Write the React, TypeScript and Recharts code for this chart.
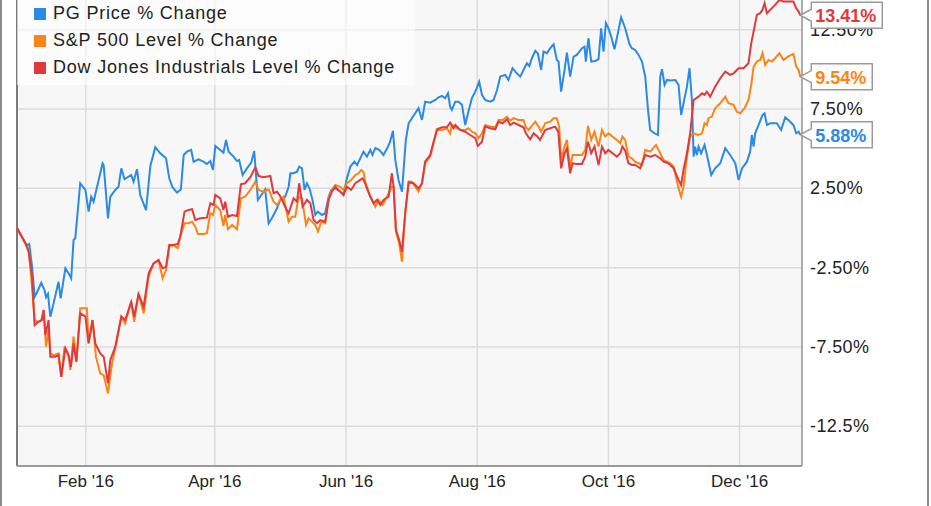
import { LineChart, Line, XAxis, YAxis, CartesianGrid, ReferenceLine } from "recharts";

// x = days since Dec 31 2015, y = % change
const pgDays = [0, 3.9, 5.1, 5.7, 7.0, 8.2, 9.8, 11.3, 12.8, 13.5, 14.4, 15.5, 17.0, 19.3, 20.3, 22.5, 24.0, 25.2, 26.3, 27.1, 29.4, 31.8, 33.3, 34.5, 35.6, 39.8, 40.3, 42.3, 43.4, 45.7, 47.2, 48.5, 50.0, 53.1, 54.2, 55.8, 57.3, 60.0, 62.0, 64.3, 66.6, 69.3, 70.8, 72.3, 74.4, 76.2, 77.5, 79.0, 81.0, 82.1, 84.4, 86.7, 88.3, 89.9, 91.1, 92.2, 94.5, 96.0, 97.2, 98.4, 100.7, 102.3, 103.3, 104.9, 106.9, 108.9, 110.3, 112.0, 113.1, 115.4, 117.0, 118.5, 120.9, 122.4, 124.7, 126.3, 127.1, 128.6, 130.2, 131.2, 132.5, 133.7, 134.8, 136.0, 137.4, 138.7, 139.9, 141.8, 143.3, 144.9, 146.1, 148.0, 150.3, 151.8, 153.4, 155.0, 156.9, 158.1, 159.6, 161.1, 162.7, 164.3, 165.3, 166.6, 168.4, 170.4, 172.5, 173.5, 174.8, 175.9, 177.4, 179.0, 180.8, 182.1, 183.6, 186.7, 188.3, 189.8, 192.1, 194.5, 196.0, 197.6, 199.1, 200.4, 201.4, 202.2, 203.8, 205.3, 206.9, 208.4, 209.7, 211.5, 213.1, 214.9, 216.2, 217.7, 220.0, 221.6, 223.2, 224.7, 227.0, 228.5, 230.4, 232.4, 234.0, 235.5, 237.1, 238.2, 239.4, 241.0, 242.2, 243.7, 244.8, 246.4, 247.9, 249.5, 251.0, 251.8, 253.0, 254.6, 255.7, 257.2, 258.8, 260.3, 262.7, 263.9, 264.5, 265.7, 267.0, 268.9, 270.4, 271.6, 272.7, 273.8, 275.0, 276.3, 277.8, 279.7, 280.9, 282.8, 284.8, 285.9, 287.4, 289.0, 290.6, 292.1, 293.4, 294.4, 296.4, 298.0, 299.1, 299.9, 301.1, 302.2, 303.7, 306.1, 307.6, 308.8, 309.9, 311.5, 312.7, 313.8, 314.6, 315.3, 316.1, 316.9, 318.1, 319.7, 320.8, 322.8, 324.6, 327.0, 329.3, 331.6, 334.0, 335.5, 337.1, 339.4, 340.9, 341.7, 342.5, 343.2, 344.8, 346.6, 347.6, 348.7, 350.2, 353.3, 355.3, 357.2, 359.5, 361.0, 362.3, 363.4, 364.2];
const pgPct = [0, -0.96, -1.07, -1.01, -2.44, -4.33, -3.91, -3.45, -3.91, -4.37, -4.16, -5.59, -4.75, -3.39, -4.43, -2.54, -2.86, -3.17, -0.76, -0.65, 2.82, 2.4, 1.03, 1.97, 1.66, 4.08, 3.97, 0.61, 1.97, 2.4, 2.6, 3.76, 3.07, 3.34, 2.92, 3.7, 2.08, 1.13, 3.91, 5.09, 4.71, 4.39, 3.13, 2.57, 2.23, 2.44, 4.6, 4.81, 4.92, 4.18, 4.33, 4.18, 4.04, 4.22, 3.66, 5.17, 4.92, 4.75, 5.55, 4.81, 4.5, 4.22, 4.29, 3.34, 3.76, 4.12, 4.85, 1.77, 1.97, 2.44, 0.3, 0.61, 1.24, 1.77, 1.97, 2.6, 3.45, 3.45, 3.55, 3.87, 3.76, 2.4, 2.82, 2.5, 1.77, 0.82, 1.03, 0.82, 0.93, 1.97, 2.4, 2.5, 2.29, 2.08, 3.13, 3.87, 4.18, 3.97, 4.39, 4.81, 4.5, 4.92, 4.6, 5.03, 4.92, 4.6, 5.13, 5.44, 6.13, 4.29, 3.03, 2.29, 5.55, 6.6, 6.92, 7.55, 6.81, 7.96, 7.9, 8.07, 8.24, 8.32, 8.18, 8.49, 7.65, 7.44, 7.96, 7.96, 7.76, 6.49, 7.23, 8.18, 8.59, 9.22, 8.39, 8.07, 7.96, 8.07, 8.7, 9.54, 9.65, 9.33, 10.07, 9.75, 9.54, 9.96, 10.38, 10.21, 10.7, 11.17, 11.0, 9.96, 11.12, 11.02, 11.33, 11.58, 10.59, 10.49, 8.59, 9.96, 11.05, 9.54, 10.8, 10.91, 11.33, 11.43, 10.49, 11.96, 10.49, 10.53, 10.64, 12.59, 11.12, 12.91, 12.59, 12.06, 11.27, 12.48, 13.28, 12.59, 11.58, 11.33, 11.22, 10.91, 10.49, 9.54, 7.44, 6.18, 5.97, 5.86, 9.54, 10.01, 9.02, 9.33, 9.29, 9.33, 9.02, 7.12, 7.86, 8.91, 10.07, 8.07, 4.5, 5.13, 4.6, 5.13, 4.71, 5.23, 4.6, 3.34, 3.76, 4.08, 5.03, 4.6, 4.08, 3.03, 3.76, 4.18, 4.81, 5.86, 5.13, 5.97, 6.49, 7.12, 7.23, 6.49, 6.6, 6.6, 6.18, 6.98, 6.7, 6.49, 5.97, 6.07, 5.88];

const spxDays = [0, 3.9, 5.4, 6.6, 8.2, 9.8, 11.3, 12.4, 13.5, 14.7, 15.5, 17.0, 19.3, 20.6, 22.1, 24.0, 24.8, 26.3, 27.6, 29.4, 32.5, 33.3, 35.1, 36.7, 38.7, 40.3, 42.3, 44.2, 46.5, 48.5, 50.3, 53.1, 54.5, 56.5, 58.9, 61.2, 63.5, 65.8, 67.7, 69.3, 70.8, 72.8, 74.7, 75.9, 77.9, 79.8, 81.4, 82.9, 84.1, 86.8, 88.3, 89.9, 91.1, 92.2, 94.5, 96.0, 96.8, 98.1, 100.0, 102.3, 104.1, 106.1, 108.5, 110.8, 112.3, 114.6, 117.0, 119.3, 120.9, 122.4, 123.9, 126.3, 127.8, 129.4, 130.9, 132.5, 134.4, 135.6, 137.1, 138.7, 139.9, 141.5, 143.3, 144.9, 146.4, 148.0, 150.3, 151.8, 153.4, 155.4, 157.3, 158.8, 160.1, 161.1, 162.3, 164.3, 166.6, 168.1, 170.0, 172.0, 174.3, 175.1, 176.2, 177.7, 179.0, 180.5, 182.1, 183.6, 185.2, 186.7, 188.3, 189.8, 192.1, 193.7, 195.3, 197.6, 199.9, 201.4, 202.2, 203.8, 206.1, 208.4, 210.0, 211.5, 213.1, 214.6, 216.2, 217.7, 220.0, 222.4, 223.9, 225.8, 227.8, 229.3, 230.9, 233.2, 235.5, 236.6, 237.8, 239.4, 241.0, 242.5, 243.7, 245.6, 247.9, 249.5, 251.0, 252.1, 253.0, 254.6, 255.7, 257.2, 258.3, 260.3, 262.7, 264.2, 265.5, 267.0, 268.5, 270.4, 272.0, 273.5, 275.0, 276.9, 278.9, 280.5, 281.5, 282.8, 284.3, 285.9, 287.4, 290.6, 292.1, 294.4, 297.1, 299.1, 300.6, 302.2, 303.7, 305.3, 307.6, 308.8, 309.9, 311.5, 313.0, 314.6, 316.9, 318.5, 319.7, 320.8, 321.5, 323.1, 324.6, 327.0, 329.3, 330.8, 333.2, 334.7, 336.3, 338.3, 340.1, 341.4, 342.5, 344.0, 345.6, 346.6, 347.9, 349.4, 351.0, 352.5, 354.5, 356.4, 358.4, 361.0, 362.3, 363.4, 364.2];
const spxPct = [0, -0.96, -1.39, -3.07, -5.8, -5.91, -5.8, -5.17, -7.48, -6.43, -7.9, -8.01, -7.9, -9.38, -7.48, -8.11, -8.95, -6.85, -8.43, -5.06, -5.06, -7.27, -5.8, -8.11, -9.16, -9.27, -10.42, -8.53, -7.06, -5.59, -6.01, -4.65, -5.91, -4.16, -5.38, -3.07, -2.23, -2.02, -3.17, -2.65, -1.18, -1.07, -1.28, -0.55, 0.3, 0.3, 0.4, 0.08, -0.38, -0.38, -0.33, 0.93, 0.82, 1.45, 1.13, 0.13, 0.82, -0.08, 0.19, -0.08, 1.87, 1.97, 2.4, 2.92, 2.4, 2.29, 2.44, 1.66, 1.45, 1.77, 1.97, 0.4, 0.71, 0.71, 1.97, 1.87, 0.19, 0.61, 0.4, 0.19, -0.23, 0.4, 0.3, 1.87, 2.4, 2.71, 2.6, 2.4, 2.82, 3.03, 3.34, 3.45, 3.66, 3.55, 2.6, 1.97, 1.34, 1.77, 1.45, 1.97, 2.6, 2.6, -0.23, -0.96, -2.12, 0.93, 2.93, 2.92, 2.6, 2.29, 2.82, 4.08, 4.5, 5.34, 6.18, 6.18, 6.29, 5.97, 6.49, 6.35, 6.18, 6.18, 6.29, 6.07, 5.97, 5.66, 5.97, 6.49, 6.39, 6.35, 6.81, 6.81, 7.02, 6.77, 6.92, 6.81, 6.81, 6.35, 6.18, 6.43, 6.7, 6.39, 6.07, 6.6, 6.7, 6.92, 6.92, 6.39, 4.29, 5.13, 5.55, 3.76, 4.6, 4.6, 4.6, 4.92, 6.43, 5.55, 6.07, 5.13, 6.18, 5.76, 5.97, 5.76, 5.55, 5.34, 5.76, 5.55, 4.5, 4.39, 4.18, 3.97, 4.92, 4.81, 5.23, 4.71, 4.29, 4.18, 4.08, 3.87, 2.5, 1.97, 2.6, 4.5, 5.76, 5.97, 5.86, 5.97, 6.6, 6.49, 6.92, 7.02, 7.55, 7.86, 8.28, 7.86, 7.76, 7.33, 7.23, 7.55, 8.07, 9.02, 10.17, 10.49, 10.59, 11.02, 10.28, 10.59, 10.49, 10.7, 11.02, 10.59, 10.8, 10.97, 10.17, 9.96, 9.54];

const djiDays = [0, 3.9, 5.4, 7.0, 8.2, 10.0, 11.6, 12.4, 13.2, 14.7, 15.5, 17.8, 19.3, 20.6, 22.5, 24.0, 25.1, 26.3, 27.6, 29.4, 31.8, 33.3, 35.1, 36.4, 38.7, 40.3, 42.3, 43.4, 45.7, 48.5, 50.3, 53.1, 54.5, 56.5, 58.9, 61.2, 63.5, 65.8, 67.7, 69.3, 70.8, 72.8, 74.7, 75.9, 77.9, 79.8, 81.4, 82.9, 85.2, 88.3, 89.9, 91.4, 92.2, 94.5, 96.0, 96.8, 98.1, 100.0, 102.3, 104.1, 106.1, 108.5, 110.8, 112.3, 114.6, 117.8, 119.3, 120.9, 122.4, 124.7, 126.3, 128.6, 130.2, 131.2, 132.8, 134.8, 136.4, 137.9, 139.5, 141.0, 143.3, 144.9, 146.4, 148.0, 150.3, 151.8, 153.4, 155.4, 157.3, 159.6, 160.7, 162.3, 164.3, 165.8, 167.4, 168.9, 170.4, 172.8, 174.3, 175.1, 176.2, 177.7, 179.0, 180.5, 182.1, 184.4, 186.7, 188.3, 189.8, 192.1, 193.7, 195.3, 197.6, 199.9, 201.4, 203.0, 203.8, 206.1, 208.4, 210.7, 213.1, 214.3, 216.2, 217.7, 220.0, 222.4, 223.9, 225.8, 227.8, 229.3, 230.9, 233.2, 235.5, 236.6, 238.6, 240.2, 241.7, 243.2, 245.6, 247.9, 250.2, 251.7, 253.0, 254.6, 255.7, 257.2, 258.3, 260.3, 262.7, 264.2, 265.5, 267.0, 268.5, 270.4, 272.0, 273.5, 275.0, 276.9, 278.9, 280.5, 281.5, 282.8, 284.3, 285.9, 287.4, 289.8, 292.1, 294.4, 296.7, 299.1, 300.6, 302.9, 305.3, 307.6, 308.8, 309.9, 311.5, 313.0, 314.6, 316.9, 318.5, 319.7, 320.8, 322.3, 324.6, 327.0, 329.3, 331.6, 333.2, 335.5, 337.8, 340.1, 341.4, 342.5, 344.0, 345.6, 346.6, 347.6, 348.7, 350.2, 352.5, 354.5, 356.4, 358.7, 361.0, 362.3, 363.4, 364.2];
const djiPct = [0, -0.96, -1.49, -3.07, -6.12, -5.91, -5.8, -5.17, -6.75, -5.8, -8.11, -8.11, -8.01, -9.38, -7.59, -8.01, -8.75, -7.27, -8.43, -5.38, -5.59, -7.27, -5.8, -7.27, -7.9, -8.11, -9.79, -8.32, -7.48, -5.59, -5.8, -4.65, -5.59, -4.16, -4.96, -2.86, -2.23, -2.02, -2.54, -2.44, -1.07, -1.07, -1.01, -0.55, 1.03, 1.13, 1.18, 0.5, 0.61, 0.65, 1.56, 1.45, 2.08, 1.87, 1.13, 1.66, 0.71, 0.82, 0.76, 2.76, 2.82, 3.2, 3.83, 3.28, 3.2, 3.28, 2.19, 2.29, 2.0, 1.34, 0.93, 1.87, 1.66, 2.82, 1.34, 1.77, 1.56, 0.5, 0.3, 0.5, 0.4, 1.77, 2.29, 2.6, 2.29, 2.08, 2.6, 2.4, 2.82, 3.03, 3.13, 2.71, 1.97, 1.56, 1.77, 1.45, 1.77, 1.97, 3.45, 2.6, -0.13, -0.76, -1.5, 0.93, 2.87, 2.82, 2.5, 2.82, 4.19, 4.6, 5.44, 6.22, 6.35, 6.35, 6.64, 6.29, 6.49, 6.18, 6.07, 5.86, 5.66, 5.17, 5.44, 6.39, 6.29, 6.22, 6.7, 6.6, 6.85, 6.49, 6.64, 6.49, 6.35, 5.97, 5.59, 5.97, 5.8, 5.55, 6.18, 6.29, 6.39, 6.07, 3.76, 4.71, 5.03, 3.45, 4.08, 4.04, 4.04, 4.5, 5.44, 4.71, 5.13, 3.97, 5.13, 4.71, 4.92, 4.71, 4.5, 4.71, 5.13, 4.87, 4.08, 3.97, 3.97, 3.76, 4.6, 4.5, 4.6, 4.39, 4.18, 4.08, 3.76, 3.03, 2.71, 3.66, 4.71, 5.97, 8.07, 8.28, 8.49, 8.39, 8.59, 8.28, 8.91, 9.44, 9.86, 9.65, 9.75, 10.07, 10.07, 10.38, 11.65, 12.38, 13.43, 13.54, 13.75, 14.17, 13.54, 13.75, 14.06, 14.38, 14.27, 14.27, 14.27, 13.85, 13.64, 13.41];

const seriesNames = ["PG Price % Change", "S&P 500 Level % Change", "Dow Jones Industrials Level % Change"];
const seriesColors = ["#2a8ae6", "#fb8414", "#e23a3c"];

const monthTickDays = [32, 92, 153, 214, 275, 336];
const monthTickLabels = ["Feb '16", "Apr '16", "Jun '16", "Aug '16", "Oct '16", "Dec '16"];
const pctTicks = [12.5, 7.5, 2.5, -2.5, -7.5, -12.5];
const pctTickLabels = ["12.50%", "7.50%", "2.50%", "-2.50%", "-7.50%", "-12.5%"];

const zip = (days: number[], pct: number[]) => days.map((d, i) => ({ day: d, pct: pct[i] }));
const series = [zip(pgDays, pgPct), zip(spxDays, spxPct), zip(djiDays, djiPct)];

const FONT = "'Liberation Sans', Arial, sans-serif";

// boxed value tag at the end of each line, with a notch pointing at the last point
const makeEndTag = (color: string, lastIndex: number) => (props: any) => {
  const { x, y, index, value } = props;
  if (index !== lastIndex || x == null || y == null) return <g />;
  const text = `${Number(value).toFixed(2)}%`;
  const w = text.length >= 6 ? 71 : 61;
  const left = x + 11;
  const h = 13;
  const d = `M${x},${y} L${left},${y - 6} L${left},${y - h} L${left + w},${y - h} L${left + w},${y + h} L${left},${y + h} L${left},${y + 6} Z`;
  return (
    <g>
      <path d={d} fill="#fff" stroke="#9a9a9a" strokeWidth={1.5} />
      <text x={left + 4} y={y + 1} fill={color} fontSize={18} fontWeight={700} fontFamily={FONT} dominantBaseline="central">
        {text}
      </text>
    </g>
  );
};

const YTick = ({ x, y, payload }: any) => {
  const i = pctTicks.indexOf(payload.value);
  return (
    <text x={x} y={y} fill="#222" fontSize={18} fontFamily={FONT} textAnchor="start" dominantBaseline="central" letterSpacing={0.4}>
      {pctTickLabels[i]}
    </text>
  );
};

const XTick = ({ x, y, payload }: any) => {
  const i = monthTickDays.indexOf(payload.value);
  return (
    <text x={x} y={y + 7} fill="#222" fontSize={17} fontFamily="'Liberation Sans Narrow', 'Arial Narrow', 'Liberation Sans', sans-serif" textAnchor="middle" dominantBaseline="central">
      {monthTickLabels[i]}
    </text>
  );
};

export default function App() {
  return (
    <div style={{ position: "absolute", left: 0, top: 0, width: 931, height: 506, overflow: "hidden", background: "#fff" }}>
      <div style={{ position: "absolute", left: 0, top: -10 }}>
        <LineChart width={931} height={516} margin={{ top: 0, right: 0, bottom: 0, left: 17 }}>
          <CartesianGrid fill="#f7f7f7" stroke="#dcdcdc" strokeWidth={1.5} />
          <XAxis
            type="number"
            dataKey="day"
            domain={[0, 365]}
            ticks={monthTickDays}
            tick={<XTick />}
            tickLine={false}
            axisLine={{ stroke: "#9a9a9a", strokeWidth: 2 }}
            height={40}
            allowDuplicatedCategory={false}
          />
          <YAxis
            orientation="right"
            type="number"
            domain={[-15, 15]}
            ticks={pctTicks}
            tick={<YTick />}
            tickLine={false}
            axisLine={{ stroke: "#9a9a9a", strokeWidth: 1.5 }}
            width={129}
          />
          <ReferenceLine x={0} stroke="#7a7a7a" strokeWidth={2} />
          {series.map((data, i) => (
            <Line
              key={seriesNames[i]}
              data={data}
              dataKey="pct"
              name={seriesNames[i]}
              type="linear"
              stroke={seriesColors[i]}
              strokeWidth={2}
              dot={false}
              isAnimationActive={false}
              label={makeEndTag(seriesColors[i], data.length - 1)}
            />
          ))}
        </LineChart>
      </div>

      {/* legend box over the top-left of the plot */}
      <div style={{ position: "absolute", left: 17, top: 0, width: 398, height: 85, background: "rgba(255,255,255,0.6)", fontFamily: FONT }}>
        {seriesNames.map((name, i) => (
          <div key={name} style={{ position: "absolute", left: 0, top: 27 * i, height: 27, display: "flex", alignItems: "center" }}>
            <span style={{ display: "inline-block", width: 12, height: 12, marginLeft: 17, background: seriesColors[i] }} />
            <span style={{ marginLeft: 7, fontSize: 18, color: "#222", letterSpacing: 0.8, whiteSpace: "nowrap" }}>{name}</span>
          </div>
        ))}
      </div>

      {/* outer frame */}
      <div style={{ position: "absolute", left: 0, top: 0, width: 2, height: 506, background: "#8c8c8c" }} />
      <div style={{ position: "absolute", left: 927, top: 0, width: 1.5, height: 506, background: "#8c8c8c" }} />
    </div>
  );
}
